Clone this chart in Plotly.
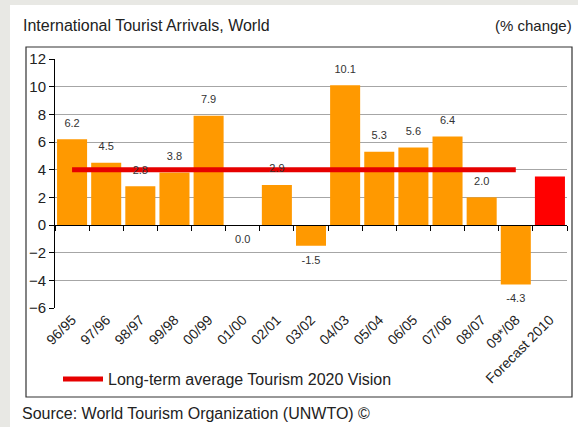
import plotly.graph_objects as go

categories = ["96/95", "97/96", "98/97", "99/98", "00/99", "01/00", "02/01", "03/02",
              "04/03", "05/04", "06/05", "07/06", "08/07", "09*/08", "Forecast 2010"]
values = [6.2, 4.5, 2.8, 3.8, 7.9, 0.0, 2.9, -1.5, 10.1, 5.3, 5.6, 6.4, 2.0, -4.3, 3.5]
labelled = [True] * 14 + [False]
forecast = [False] * 14 + [True]
avg_categories = categories[:14]
avg_values = [4.0] * 14
y_ticks = [-6, -4, -2, 0, 2, 4, 6, 8, 10, 12]

FONT = "Liberation Sans, Arial, sans-serif"
W, H = 578, 427
L, R, T, B = 55, 11, 59, 119
PW, PH = W - L - R, H - T - B


def px_x(p):
    return (p - L) / PW


def px_y(p):
    return (H - B - p) / PH


bar_colors = ["#ff0000" if f else "#ff9900" for f in forecast]

fig = go.Figure()
fig.add_trace(go.Bar(
    x=categories, y=values, marker=dict(color=bar_colors, line=dict(width=0)),
    showlegend=False, hoverinfo="skip", xaxis="x", yaxis="y",
))

fig.add_trace(go.Scatter(
    x=avg_categories, y=avg_values, mode="lines",
    line=dict(color="#e60000", width=5),
    name="Long-term average Tourism 2020 Vision",
    xaxis="x2", yaxis="y", hoverinfo="skip",
))

lx = [c for c, keep in zip(categories, labelled) if keep]
ly = [v for v, keep in zip(values, labelled) if keep]
fig.add_trace(go.Scatter(
    x=lx, y=ly, mode="markers+text",
    text=[f"{v:.1f}" for v in ly],
    textposition=["top center" if v > 0 else "bottom center" for v in ly],
    marker=dict(size=14, opacity=0),
    textfont=dict(family=FONT, size=11, color="#333333"),
    showlegend=False, hoverinfo="skip", xaxis="x2", yaxis="y",
))

fig.update_layout(
    width=W, height=H,
    margin=dict(l=L, r=R, t=T, b=B, pad=0, autoexpand=False),
    paper_bgcolor="#e8e8e4",
    plot_bgcolor="white",
    bargap=0.12,
    font=dict(family=FONT, color="#222222"),
    xaxis=dict(
        type="category", categoryarray=categories, categoryorder="array",
        range=[-0.5, len(categories) - 0.5], automargin=False,
        showline=False, showgrid=False, ticks="", tickangle=-45,
        tickfont=dict(family=FONT, size=14, color="#222222"),
        anchor="y",
    ),
    xaxis2=dict(
        type="category", categoryarray=categories, categoryorder="array",
        range=[-0.5, len(categories) - 0.5], automargin=False,
        overlaying="x", anchor="free", position=(0 - y_ticks[0]) / (y_ticks[-1] - y_ticks[0]),
        showline=True, linecolor="#000000", linewidth=1,
        ticks="outside", tickson="boundaries", ticklen=5, tickcolor="#000000",
        showticklabels=False, showgrid=False,
    ),
    yaxis=dict(
        range=[y_ticks[0], y_ticks[-1]], tickvals=y_ticks, automargin=False,
        showline=True, linecolor="#000000", linewidth=1,
        ticks="outside", ticklen=5, tickcolor="#000000",
        showgrid=True, gridcolor="#a6a6a6", gridwidth=1, zeroline=False,
        tickfont=dict(family=FONT, size=15, color="#222222"),
    ),
    legend=dict(
        xref="container", yref="container",
        x=58 / W, y=1 - 379 / H, xanchor="left", yanchor="middle",
        bgcolor="rgba(0,0,0,0)", font=dict(family=FONT, size=16, color="#222222"),
        itemwidth=40,
    ),
    shapes=[
        dict(type="rect", xref="paper", yref="paper", layer="below",
             x0=px_x(10), x1=px_x(580), y0=px_y(5), y1=px_y(430),
             fillcolor="white", line=dict(width=0)),
        dict(type="rect", xref="paper", yref="paper", layer="above",
             x0=px_x(26), x1=px_x(572), y0=px_y(47), y1=px_y(397),
             fillcolor="rgba(0,0,0,0)", line=dict(color="#333333", width=1.2)),
    ],
    annotations=[
        dict(text="International Tourist Arrivals, World", xref="paper", yref="paper",
             x=px_x(21), y=px_y(25), xanchor="left", yanchor="middle", showarrow=False,
             font=dict(family=FONT, size=16, color="#222222")),
        dict(text="(% change)", xref="paper", yref="paper",
             x=px_x(574), y=px_y(25), xanchor="right", yanchor="middle", showarrow=False,
             font=dict(family=FONT, size=15, color="#222222")),
        dict(text="Source: World Tourism Organization (UNWTO) ©", xref="paper", yref="paper",
             x=px_x(20), y=px_y(413), xanchor="left", yanchor="middle", showarrow=False,
             font=dict(family=FONT, size=16, color="#222222")),
    ],
)

fig.write_html(
    "out.html",
    config={"displayModeBar": False},
    post_script="document.body.style.margin='0';document.body.style.overflow='hidden';"
                "document.documentElement.style.overflow='hidden';",
)
